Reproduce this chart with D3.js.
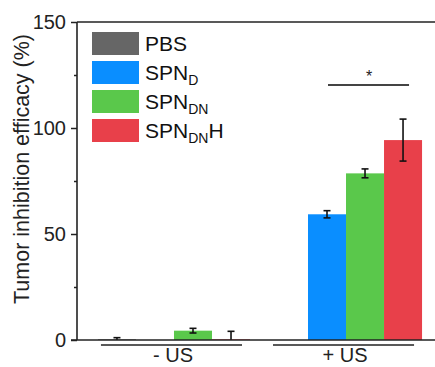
<!DOCTYPE html>
<html>
<head>
<meta charset="utf-8">
<script src="https://cdn.jsdelivr.net/npm/d3@7"></script>
<style>
  body { margin: 0; background: #fff; }
  svg { display: block; font-family: "Liberation Sans", Arial, sans-serif; }
</style>
</head>
<body>
<div id="chart"></div>
<script>
const groups = ['- US', '+ US'];
const series = ['PBS', 'SPN_D', 'SPN_DN', 'SPN_DNH'];
// values per series, one entry per group
const values = {
    PBS: [0.3, 0],
    SPN_D: [0, 59.3],
    SPN_DN: [4.4, 78.6],
    SPN_DNH: [0.3, 94.3]
};
const errors = {
    PBS: [0.8, 0],
    SPN_D: [0, 1.7],
    SPN_DN: [1.1, 2.1],
    SPN_DNH: [3.8, 9.9]
};
const yTicks = [0, 50, 100, 150];
const yMinorTicks = [25, 75, 125];
const colors = ['#666666', '#0a8eff', '#5ac84b', '#e8404a'];

const W = 435, H = 367;
const svg = d3.select('#chart').append('svg')
    .attr('width', W)
    .attr('height', H);

const x0 = d3.scaleBand()
    .domain(groups)
    .range([78, 442])
    .padding(0.116);

const x1 = d3.scaleBand()
    .domain(series)
    .range([0, x0.bandwidth()])
    .padding(0);

const y = d3.scaleLinear()
    .domain([0, 150])
    .range([340, 22]);

const ink = '#222';

// bars
series.forEach((s, si) => {
    groups.forEach((g, gi) => {
        const v = values[s][gi];
        if (v <= 0) return;
        svg.append('rect')
            .attr('x', x0(g) + x1(s))
            .attr('y', y(v))
            .attr('width', x1.bandwidth())
            .attr('height', y(0) - y(v))
            .attr('fill', colors[si]);
    });
});

// error bars
series.forEach((s) => {
    groups.forEach((g, gi) => {
        const e = errors[s][gi];
        if (e <= 0) return;
        const v = values[s][gi];
        const cx = x0(g) + x1(s) + x1.bandwidth() / 2;
        const top = y(v + e);
        const bot = Math.min(y(v - e), y(0));
        const eb = svg.append('g').attr('stroke', '#111').attr('stroke-width', 1.6);
        eb.append('line').attr('x1', cx).attr('x2', cx).attr('y1', top).attr('y2', bot);
        eb.append('line').attr('x1', cx - 3.5).attr('x2', cx + 3.5).attr('y1', top).attr('y2', top);
        if (bot < y(0)) {
            eb.append('line').attr('x1', cx - 3.5).attr('x2', cx + 3.5).attr('y1', bot).attr('y2', bot);
        }
    });
});

// y axis
const yAxis = svg.append('g')
    .attr('transform', `translate(77,0)`)
    .call(d3.axisLeft(y).tickValues(yTicks).tickSize(6).tickPadding(5).tickFormat(d3.format('d')))
    .call(g => g.select('.domain').remove());
yAxis.selectAll('line').attr('stroke', ink).attr('stroke-width', 1.5);
yAxis.selectAll('text')
    .attr('fill', ink)
    .style('font-size', '20px')
    .style('font-family', '"Liberation Sans", Arial, sans-serif');

svg.append('g')
    .attr('transform', `translate(77,0)`)
    .call(d3.axisLeft(y).tickValues(yMinorTicks).tickSize(3).tickFormat(''))
    .call(g => g.select('.domain').remove())
    .selectAll('line').attr('stroke', ink).attr('stroke-width', 1.5);

// frame: left, top, bottom
svg.append('line').attr('x1', 77).attr('x2', 77).attr('y1', y(150)).attr('y2', y(0))
    .attr('stroke', ink).attr('stroke-width', 1.6);
svg.append('line').attr('x1', 77).attr('x2', W).attr('y1', y(150)).attr('y2', y(150))
    .attr('stroke', ink).attr('stroke-width', 1.6);
svg.append('line').attr('x1', 71).attr('x2', W).attr('y1', y(0)).attr('y2', y(0))
    .attr('stroke', ink).attr('stroke-width', 1.6);

// y title
svg.append('text')
    .attr('transform', `translate(29,169) rotate(-90)`)
    .attr('text-anchor', 'middle')
    .attr('fill', ink)
    .style('font-size', '21.5px')
    .text('Tumor inhibition efficacy (%)');

// group underlines and labels
groups.forEach((g) => {
    svg.append('line')
        .attr('x1', x0(g) + 3).attr('x2', x0(g) + x0.bandwidth() - 8)
        .attr('y1', 345).attr('y2', 345)
        .attr('stroke', ink).attr('stroke-width', 1.6);
    svg.append('text')
        .attr('x', x0(g) + x0.bandwidth() / 2 - 1)
        .attr('y', 362)
        .attr('text-anchor', 'middle')
        .attr('fill', ink)
        .style('font-size', '20px')
        .text(g);
});

// significance
const sx1 = x0('+ US') + x1('SPN_D') + x1.bandwidth() / 2;
const sx2 = x0('+ US') + x1('SPN_DNH') + x1.bandwidth() / 2 + 8;
svg.append('line')
    .attr('x1', sx1 + 1).attr('x2', sx2 - 2)
    .attr('y1', 85).attr('y2', 85)
    .attr('stroke', '#444').attr('stroke-width', 2);
svg.append('text')
    .attr('x', (sx1 + sx2) / 2)
    .attr('y', 82)
    .attr('text-anchor', 'middle')
    .attr('fill', ink)
    .style('font-size', '16px')
    .text('*');

// legend
const legendLabels = [
    { main: 'PBS', sub: '', tail: '' },
    { main: 'SPN', sub: 'D', tail: '' },
    { main: 'SPN', sub: 'DN', tail: '' },
    { main: 'SPN', sub: 'DN', tail: 'H' }
];
const legend = svg.append('g').attr('transform', 'translate(92,32)');
legendLabels.forEach((d, i) => {
    const row = legend.append('g').attr('transform', `translate(0,${i * 29})`);
    row.append('rect')
        .attr('width', 47).attr('height', 23)
        .attr('fill', colors[i]);
    const t = row.append('text')
        .attr('x', 53).attr('y', 19)
        .attr('fill', '#111')
        .style('font-size', '21px');
    t.append('tspan').text(d.main);
    if (d.sub) {
        t.append('tspan').attr('dy', 5).style('font-size', '14px').text(d.sub);
    }
    if (d.tail) {
        t.append('tspan').attr('dy', -5).text(d.tail);
    }
});
</script>
</body>
</html>
